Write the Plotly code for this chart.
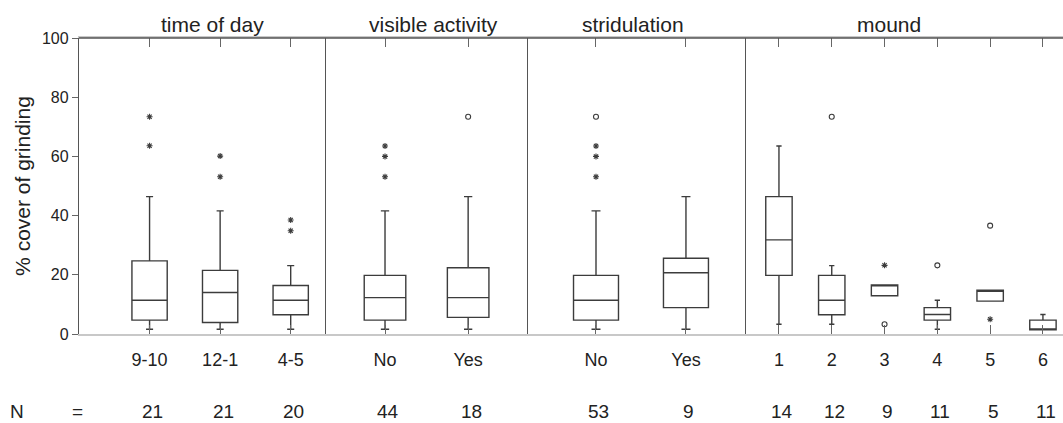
import plotly.graph_objects as go

# ---------------- data ----------------
panel_titles = ["time of day", "visible activity", "stridulation", "mound"]

time_cats = ["9-10", "12-1", "4-5"]
time_q1 = [4.7, 3.9, 6.5]
time_med = [11.4, 14.0, 11.4]
time_q3 = [24.7, 21.5, 16.4]
time_lo = [1.6, 1.6, 1.6]
time_hi = [46.4, 41.6, 23.1]
time_n = [21, 21, 20]
time_ext_x = ["9-10", "9-10", "12-1", "12-1", "4-5", "4-5"]
time_ext_y = [73.4, 63.6, 60.1, 53.1, 38.5, 34.9]
time_out_x = []
time_out_y = []

vis_cats = ["No", "Yes"]
vis_q1 = [4.7, 5.6]
vis_med = [12.3, 12.3]
vis_q3 = [19.8, 22.4]
vis_lo = [1.6, 1.6]
vis_hi = [41.6, 46.4]
vis_n = [44, 18]
vis_ext_x = ["No", "No", "No"]
vis_ext_y = [63.5, 60.0, 53.1]
vis_out_x = ["Yes"]
vis_out_y = [73.4]

str_cats = ["No", "Yes"]
str_q1 = [4.7, 8.9]
str_med = [11.4, 20.7]
str_q3 = [19.8, 25.6]
str_lo = [1.6, 1.6]
str_hi = [41.6, 46.4]
str_n = [53, 9]
str_ext_x = ["No", "No", "No"]
str_ext_y = [63.5, 60.0, 53.1]
str_out_x = ["No"]
str_out_y = [73.4]

mound_cats = ["1", "2", "3", "4", "5", "6"]
mound_q1 = [19.8, 6.5, 12.9, 4.7, 11.1, 1.4]
mound_med = [31.8, 11.4, 16.6, 6.6, 14.8, 1.4]
mound_q3 = [46.4, 19.8, 16.6, 8.9, 14.8, 4.7]
mound_lo = [3.3, 3.3, 12.9, 1.6, 11.1, 1.4]
mound_hi = [63.5, 23.1, 16.6, 11.4, 14.8, 6.6]
mound_n = [14, 12, 9, 11, 5, 11]
mound_ext_x = ["3", "5"]
mound_ext_y = [23.2, 5.0]
mound_out_x = ["2", "3", "4", "5"]
mound_out_y = [73.4, 3.3, 23.2, 36.6]

y_ticks = [0, 20, 40, 60, 80, 100]

panels = [
    (time_cats, time_q1, time_med, time_q3, time_lo, time_hi, time_n, time_ext_x, time_ext_y, time_out_x, time_out_y),
    (vis_cats, vis_q1, vis_med, vis_q3, vis_lo, vis_hi, vis_n, vis_ext_x, vis_ext_y, vis_out_x, vis_out_y),
    (str_cats, str_q1, str_med, str_q3, str_lo, str_hi, str_n, str_ext_x, str_ext_y, str_out_x, str_out_y),
    (mound_cats, mound_q1, mound_med, mound_q3, mound_lo, mound_hi, mound_n, mound_ext_x, mound_ext_y, mound_out_x, mound_out_y),
]

# ---------------- layout geometry ----------------
W, H = 1063, 423
ML, MR, MT, MB = 79, 0, 38, 89
domains = [[0.0, 0.2510], [0.2510, 0.4563], [0.4563, 0.6778], [0.6778, 1.0]]
xranges = [[-1.0, 2.5], [-0.71, 1.72], [-0.756, 1.667], [-0.625, 5.38]]
title_pos = [0.54, 0.53, 0.48, 0.45]

FONT = "Liberation Sans, Arial, sans-serif"
DARK = "#3c3c3c"
LINE = "#555555"

fig = go.Figure()
annotations = []

for i, (cats, q1, med, q3, lo, hi, n, ex_x, ex_y, o_x, o_y) in enumerate(panels):
    xa = "x" if i == 0 else f"x{i+1}"
    ya = "y" if i == 0 else f"y{i+1}"
    fig.add_trace(go.Box(
        x=cats, q1=q1, median=med, q3=q3, lowerfence=lo, upperfence=hi,
        width=0.5, whiskerwidth=0.2, boxpoints=False,
        fillcolor="white", line=dict(color=DARK, width=1.4),
        xaxis=xa, yaxis=ya, showlegend=False, hoverinfo="skip",
    ))
    if ex_x:
        fig.add_trace(go.Scatter(
            x=ex_x, y=ex_y, mode="markers", xaxis=xa, yaxis=ya, showlegend=False,
            marker=dict(symbol="asterisk-open", size=5, color=DARK, line=dict(color=DARK, width=1.1)),
        ))
    if o_x:
        fig.add_trace(go.Scatter(
            x=o_x, y=o_y, mode="markers", xaxis=xa, yaxis=ya, showlegend=False,
            marker=dict(symbol="circle-open", size=5, color=DARK, line=dict(color=DARK, width=1.1)),
        ))
    xkey = "xaxis" if i == 0 else f"xaxis{i+1}"
    ykey = "yaxis" if i == 0 else f"yaxis{i+1}"
    fig.layout[xkey] = dict(
        domain=domains[i], anchor=ya, type="category", range=xranges[i],
        categoryorder="array", categoryarray=cats,
        showline=True, linecolor="#c8c8c8", linewidth=2, mirror="ticks",
        ticks="inside", ticklen=9, tickcolor="#666666", tickwidth=1.2,
        showgrid=False, zeroline=False, ticklabelstandoff=8,
        tickfont=dict(family=FONT, size=18, color="#222"),
    )
    if i == 0:
        fig.layout[ykey] = dict(
            domain=[0, 1], anchor="x", range=[0, 100], tickvals=y_ticks,
            showline=True, linecolor=LINE, linewidth=1.3,
            ticks="outside", ticklen=6, tickcolor="#666666",
            showgrid=False, zeroline=False,
            tickfont=dict(family=FONT, size=16, color="#222"),
            title=dict(text="% cover of grinding", font=dict(family=FONT, size=21, color="#222"), standoff=5),
        )
    else:
        fig.layout[ykey] = dict(
            domain=[0, 1], anchor=xa, range=[0, 100], matches="y",
            showline=True, linecolor=LINE, linewidth=1.3,
            showticklabels=False, ticks="", showgrid=False, zeroline=False,
        )
    # panel title
    annotations.append(dict(
        text=panel_titles[i], xref=f"{xa} domain", yref="paper",
        x=title_pos[i], y=1.047, xanchor="center", yanchor="middle", showarrow=False,
        font=dict(family=FONT, size=21, color="#222"),
    ))
    # N counts (category index positions)
    for j, v in enumerate(n):
        annotations.append(dict(
            text=str(v), xref=xa, yref="paper", x=j, y=-0.2635, xshift=3,
            xanchor="center", yanchor="middle", showarrow=False,
            font=dict(family=FONT, size=19, color="#222"),
        ))

annotations.append(dict(text="N", xref="paper", yref="paper", x=-0.063, y=-0.2635,
                        xanchor="center", yanchor="middle", showarrow=False,
                        font=dict(family=FONT, size=19, color="#222")))
annotations.append(dict(text="=", xref="paper", yref="paper", x=-0.002, y=-0.2635,
                        xanchor="center", yanchor="middle", showarrow=False,
                        font=dict(family=FONT, size=19, color="#222")))

fig.update_layout(
    width=W, height=H,
    margin=dict(l=ML, r=MR, t=MT, b=MB),
    paper_bgcolor="white", plot_bgcolor="white",
    font=dict(family=FONT, color="#222"),
    annotations=annotations,
    shapes=[dict(type="line", xref="paper", yref="paper", x0=0, x1=1, y0=1, y1=1,
                 line=dict(color=LINE, width=1.3))],
)

fig.write_html("out.html", config={"displayModeBar": False},
               post_script="document.body.style.margin='0';")
